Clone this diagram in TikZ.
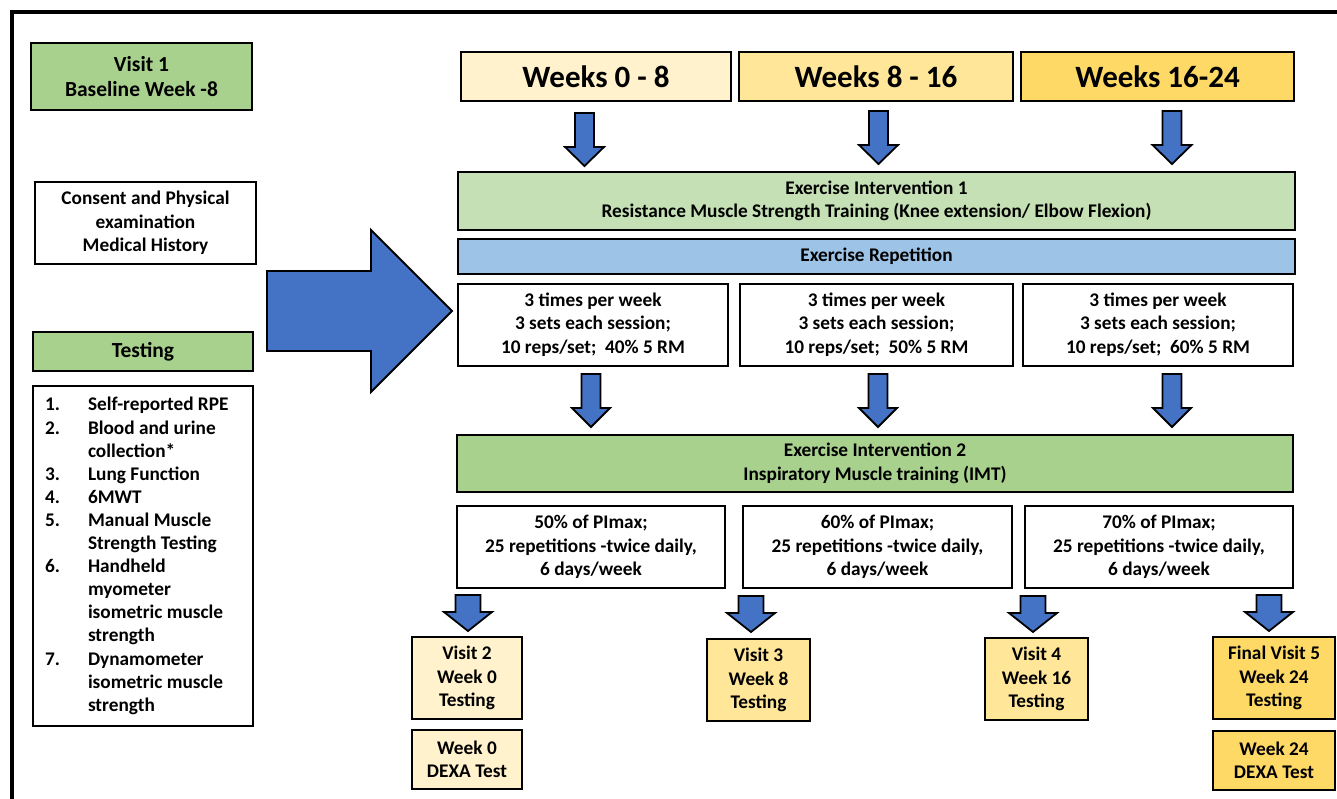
\documentclass[tikz,border=0pt]{standalone}
\usepackage{fontspec}
\setmainfont{Carlito}
\definecolor{gA}{HTML}{A9D18E}
\definecolor{gB}{HTML}{C5E0B4}
\definecolor{bR}{HTML}{9DC3E6}
\definecolor{yA}{HTML}{FFF2CC}
\definecolor{yB}{HTML}{FFE699}
\definecolor{yC}{HTML}{FFD966}
\definecolor{arr}{HTML}{4472C4}
\newcommand{\fsbody}{\fontsize{19.3}{23.5}\selectfont\bfseries}
\newcommand{\fslist}{\fontsize{19.3}{23.1}\selectfont\bfseries}
\newcommand{\fsbig}{\fontsize{21.5}{25}\selectfont\bfseries}
\newcommand{\fstitle}{\fontsize{31}{36}\selectfont\bfseries}
\newcommand{\DArrow}[7]{%
  \draw[blockarr] (#1-#5,#2) coordinate (#7) -- (#1+#5,#2) -- (#1+#5,#3) -- (#1+#6,#3) -- (#1,#4) -- (#1-#6,#3) -- (#1-#5,#3) -- cycle;}
\tikzset{
  box/.style={draw=black, line width=1.5pt, align=center, inner sep=0pt, font=\fsbody},
  blockarr/.style={draw=black, line width=1.8pt, fill=arr, line join=miter},
  frame/.style={draw=black, line width=3.5pt}
}
\begin{document}
\begin{tikzpicture}[x=1pt,y=-1pt]
\useasboundingbox (0,0) rectangle (1337,799);
\draw[frame] (12,799) -- (12,12) -- (1337,12);

% left column
\node[box, fill=gA, minimum width=221pt, minimum height=67pt, font=\fsbig] (v1) at (141.5,76.5) {Visit 1\\Baseline Week -8};
\node[box, fill=white, minimum width=221pt, minimum height=82pt] (consent) at (145.5,223) {Consent and Physical\\examination\\Medical History};
\node[box, fill=gA, minimum width=220pt, minimum height=39pt, font=\fsbig] (testh) at (143,351.5) {Testing};
\node[box, fill=white, minimum width=220pt, minimum height=340pt, text width=196pt, align=flush left, font=\fslist] (testl) at (143,556) {%
\makebox[43pt][l]{1.}Self-reported RPE\\
\makebox[43pt][l]{2.}Blood and urine\\
\makebox[43pt][l]{}collection*\\
\makebox[43pt][l]{3.}Lung Function\\
\makebox[43pt][l]{4.}6MWT\\
\makebox[43pt][l]{5.}Manual Muscle\\
\makebox[43pt][l]{}Strength Testing\\
\makebox[43pt][l]{6.}Handheld\\
\makebox[43pt][l]{}myometer\\
\makebox[43pt][l]{}isometric muscle\\
\makebox[43pt][l]{}strength\\
\makebox[43pt][l]{7.}Dynamometer\\
\makebox[43pt][l]{}isometric muscle\\
\makebox[43pt][l]{}strength};

% big arrow
\draw[blockarr] (267,271) coordinate (bigA) -- (371,271) -- (371,230) -- (452,311) -- (371,392) -- (371,351) -- (267,351) -- cycle;

% week headers
\node[box, fill=yA, minimum width=270pt, minimum height=49pt, font=\fstitle] (w1) at (596,76.5) {Weeks 0 - 8};
\node[box, fill=yB, minimum width=274pt, minimum height=49pt, font=\fstitle] (w2) at (876,76.5) {Weeks 8 - 16};
\node[box, fill=yC, minimum width=273pt, minimum height=49pt, font=\fstitle] (w3) at (1157.5,76.5) {Weeks 16-24};

\DArrow{584.5}{113}{147}{166}{9.5}{19.5}{a11}
\DArrow{878.5}{111}{145}{164}{9.5}{19.5}{a12}
\DArrow{1172}{111}{145}{164}{9.5}{19.5}{a13}

\node[box, fill=gB, minimum width=837pt, minimum height=58pt] (ex1) at (876.5,201) {Exercise Intervention 1\\Resistance Muscle Strength Training (Knee extension/ Elbow Flexion)};
\node[box, fill=bR, minimum width=837pt, minimum height=35pt] (rep) at (876.5,256.5) {Exercise Repetition};

\node[box, fill=white, minimum width=270pt, minimum height=82pt, text depth=4pt] (r1) at (593,325) {3 times per week\\3 sets each session;\\10 reps/set;\ \ 40\% 5 RM};
\node[box, fill=white, minimum width=273pt, minimum height=82pt, text depth=4pt] (r2) at (876.5,325) {3 times per week\\3 sets each session;\\10 reps/set;\ \ 50\% 5 RM};
\node[box, fill=white, minimum width=270pt, minimum height=82pt, text depth=4pt] (r3) at (1158,325) {3 times per week\\3 sets each session;\\10 reps/set;\ \ 60\% 5 RM};

\DArrow{591}{374}{408}{427}{9.5}{19}{a21}
\DArrow{878}{374}{408}{427}{9.5}{19}{a22}
\DArrow{1172}{374}{408}{427}{9.5}{19}{a23}

\node[box, fill=gA, minimum width=836pt, minimum height=57pt] (ex2) at (875,463.5) {Exercise Intervention 2\\Inspiratory Muscle training (IMT)};

\node[box, fill=white, minimum width=268pt, minimum height=82pt] (i1) at (591,547) {50\% of PImax;\\25 repetitions -twice daily,\\6 days/week};
\node[box, fill=white, minimum width=269pt, minimum height=82pt] (i2) at (877.5,547) {60\% of PImax;\\25 repetitions -twice daily,\\6 days/week};
\node[box, fill=white, minimum width=268pt, minimum height=82pt] (i3) at (1159,547) {70\% of PImax;\\25 repetitions -twice daily,\\6 days/week};

\DArrow{468}{595}{612}{631}{12.5}{24}{a31}
\DArrow{751}{596}{613}{632}{12.5}{24}{a32}
\DArrow{1033}{596}{613}{632}{12.5}{24}{a33}
\DArrow{1269}{595}{612}{631}{12.5}{24}{a34}

\node[box, fill=yA, minimum width=110pt, minimum height=82pt] (v2) at (467,678) {Visit 2\\Week 0\\Testing};
\node[box, fill=yA, minimum width=110pt, minimum height=59pt] (d0) at (467,759.5) {Week 0\\DEXA Test};
\node[box, fill=yB, minimum width=103pt, minimum height=82pt] (v3) at (758.5,680) {Visit 3\\Week 8\\Testing};
\node[box, fill=yB, minimum width=103pt, minimum height=82pt] (v4) at (1036.5,679) {Visit 4\\Week 16\\Testing};
\node[box, fill=yC, minimum width=122pt, minimum height=82pt] (v5) at (1274,678) {Final Visit 5\\Week 24\\Testing};
\node[box, fill=yC, minimum width=122pt, minimum height=59pt] (d24) at (1274,760.5) {Week 24\\DEXA Test};
\end{tikzpicture}
\end{document}
